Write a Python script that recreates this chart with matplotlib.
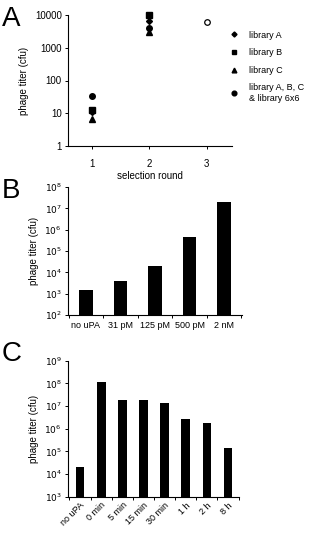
import matplotlib
matplotlib.use("Agg")
import matplotlib.pyplot as plt
from matplotlib.ticker import FixedLocator, NullLocator, FixedFormatter
import numpy as np

plt.rcParams['font.family'] = ['Liberation Sans', 'DejaVu Sans']

# Panel A data
rounds = [1, 2, 3]
libA_x = [1, 2]
libA = [11, 6500]
libB_x = [1, 2]
libB = [13, 10000]
libC_x = [1, 2]
libC = [6.5, 3000]
libAll_x = [1, 2]
libAll = [34, 4000]
lib6_x = [3]
lib6 = [6000]
a_yticks = [1, 10, 100, 1000, 10000]
a_yticklabels = ['1', '10', '100', '1000', '10000']

# Panel B data
b_cats = ['no uPA', '31 pM', '125 pM', '500 pM', '2 nM']
b_vals = [1500, 4000, 19000, 4.4e5, 1.9e7]

# Panel C data
c_cats = ['no uPA', '0 min', '5 min', '15 min', '30 min', '1 h', '2 h', '8 h']
c_vals = [2.0e4, 1.1e8, 1.8e7, 1.8e7, 1.3e7, 2.7e6, 1.8e6, 1.35e5]

W, H = 309, 534
fig = plt.figure(figsize=(W/100, H/100), dpi=100)

def rect(l, r, t, b):
    return [l/W, 1 - b/H, (r-l)/W, (b-t)/H]

fs = 6.5
ylab = 'phage titer (cfu)'

def style(ax):
    for s in ['top', 'right']:
        ax.spines[s].set_visible(False)
    for s in ['left', 'bottom']:
        ax.spines[s].set_linewidth(0.8)
    ax.tick_params(axis='both', which='major', length=2.5, width=0.7, labelsize=fs, pad=2)
    ax.yaxis.set_minor_locator(NullLocator())

# Panel A
axA = fig.add_axes(rect(68, 232, 15, 146))
axA.set_yscale('log')
ms = 4
axA.plot(libA_x, libA, linestyle='none', marker='D', color='black', ms=3.0, label='library A', clip_on=False)
axA.plot(libB_x, libB, linestyle='none', marker='s', color='black', ms=3.8, label='library B', clip_on=False)
axA.plot(libC_x, libC, linestyle='none', marker='^', color='black', ms=ms, label='library C', clip_on=False)
axA.plot(libAll_x, libAll, linestyle='none', marker='o', color='black', ms=ms,
         label='library A, B, C\n& library 6x6', clip_on=False)
axA.plot(lib6_x, lib6, linestyle='none', marker='o', mfc='white', mec='black', mew=0.9, ms=ms, clip_on=False)
axA.set_xlim(0.58, 3.44)
axA.set_ylim(1, 10000)
axA.set_xticks(rounds)
axA.set_yticks(a_yticks)
axA.set_yticklabels(a_yticklabels)
style(axA)
axA.tick_params(axis='both', labelsize=7)
axA.tick_params(axis='x', pad=7)
axA.set_xlabel('selection round', fontsize=7, labelpad=1)
axA.set_ylabel(ylab, fontsize=7, labelpad=4)
handles, labels = axA.get_legend_handles_labels()
leg = fig.legend(handles, labels, loc='upper left', bbox_to_anchor=(226/W, 1 - 27/H),
                 frameon=False, fontsize=6.5, handlelength=1.0, handletextpad=1.2,
                 labelspacing=0.95, borderaxespad=0, markerscale=0.85)

fig.text(2/W, 1 - 6/H, 'A', fontsize=20, va='top', ha='left')

# Panel B
axB = fig.add_axes(rect(68, 242, 187, 315))
axB.set_yscale('log')
xb = np.arange(len(b_cats))
axB.bar(xb, b_vals, width=0.4, color='black', bottom=0)
axB.set_xlim(-0.52, len(b_cats) - 0.48)
axB.set_ylim(1e2, 1e8)
axB.set_yticks([10.0**k for k in range(2, 9)])
axB.set_yticklabels([f'$10^{k}$' for k in range(2, 9)])
axB.xaxis.set_major_locator(FixedLocator(np.arange(len(b_cats) + 1) - 0.5))
axB.xaxis.set_major_formatter(FixedFormatter([''] * (len(b_cats) + 1)))
axB.set_xticks(xb, minor=True)
axB.set_xticklabels(b_cats, minor=True)
style(axB)
axB.tick_params(axis='x', which='minor', length=0, labelsize=fs, pad=4)
axB.set_ylabel(ylab, fontsize=7, labelpad=4)
fig.text(2/W, 1 - 178/H, 'B', fontsize=20, va='top', ha='left')

# Panel C
axC = fig.add_axes(rect(68, 239, 360.7, 496.7))
axC.set_yscale('log')
xc = np.arange(len(c_cats))
axC.bar(xc, c_vals, width=0.41, color='black')
axC.set_xlim(-0.57, len(c_cats) - 0.48)
axC.set_ylim(1e3, 1e9)
axC.set_yticks([10.0**k for k in range(3, 10)])
axC.set_yticklabels([f'$10^{k}$' for k in range(3, 10)])
axC.xaxis.set_major_locator(FixedLocator(np.arange(len(c_cats) + 1) - 0.5))
axC.xaxis.set_major_formatter(FixedFormatter([''] * (len(c_cats) + 1)))
axC.set_xticks(xc, minor=True)
axC.set_xticklabels(c_cats, minor=True, rotation=45, ha='right', rotation_mode='anchor')
style(axC)
axC.tick_params(axis='x', which='minor', length=0, labelsize=fs, pad=3)
axC.set_ylabel(ylab, fontsize=7, labelpad=4)
fig.text(2/W, 1 - 341/H, 'C', fontsize=20, va='top', ha='left')

fig.savefig('out.png', dpi=100)
